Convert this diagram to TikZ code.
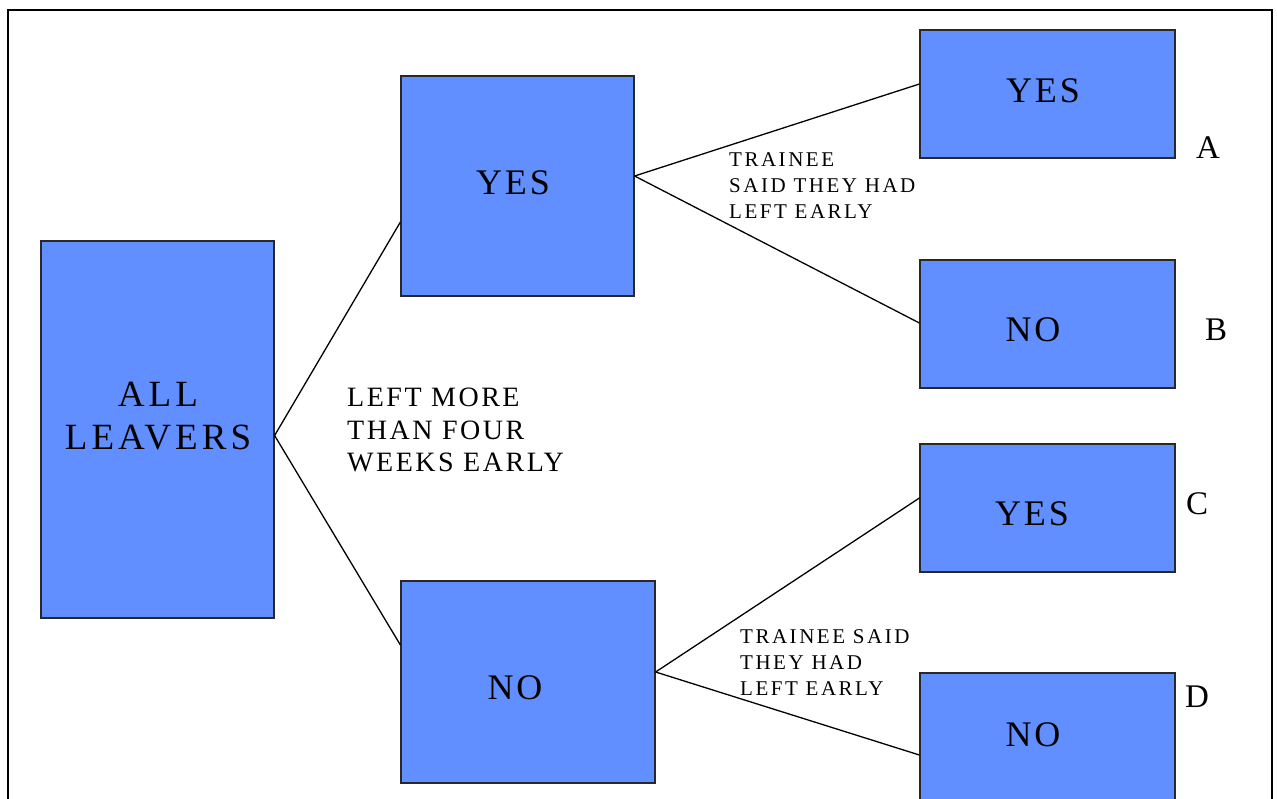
\documentclass[tikz,border=0pt]{standalone}
\usepackage{fontspec}
\setmainfont{Liberation Serif}[LetterSpace=8]
\newfontfamily\plainfont{Liberation Serif}
\newfontfamily\allfont{Liberation Serif}[LetterSpace=11]
\newfontfamily\smallfont{Liberation Serif}[LetterSpace=12]
\newfontfamily\midfont{Liberation Serif}[LetterSpace=9]
\definecolor{boxblue}{RGB}{97,143,255}
\definecolor{edgegray}{RGB}{40,40,40}
\tikzset{
  box/.style={draw=edgegray, line width=1.2pt, fill=boxblue, inner sep=0pt},
  boxtext/.style={inner sep=0pt, align=center, font=\fontsize{36}{43}\selectfont},
  bigtext/.style={inner sep=0pt, align=left, anchor=west, font=\midfont\fontsize{28}{32.5}\selectfont},
  smalltext/.style={inner sep=0pt, align=left, anchor=west, font=\smallfont\fontsize{21}{26}\selectfont},
  letter/.style={inner sep=0pt, font=\plainfont\fontsize{33}{36}\selectfont},
  link/.style={line width=1.3pt, draw=black}
}
\begin{document}
\begin{tikzpicture}[x=1pt,y=-1pt]
\clip (0,0) rectangle (1277,798);
\fill[white] (0,0) rectangle (1277,798);
\draw[line width=2.6pt] (8,10) -- (1272,10) -- (1272,830) -- (8,830) -- cycle;

% boxes
\node[box, minimum width=233pt, minimum height=377pt] (allL) at (157.5,429.5) {};
\node[box, minimum width=233pt, minimum height=220pt] (yesM) at (517.5,186) {};
\node[box, minimum width=254pt, minimum height=202pt] (noM) at (528,682) {};
\node[box, minimum width=255pt, minimum height=128pt] (yesA) at (1047.5,94) {};
\node[box, minimum width=255pt, minimum height=128pt] (noB) at (1047.5,324) {};
\node[box, minimum width=255pt, minimum height=128pt] (yesC) at (1047.5,508) {};
\node[box, minimum width=255pt, minimum height=128pt] (noD) at (1047.5,737) {};

% box texts
\node[boxtext, font=\allfont\fontsize{37}{43}\selectfont] (tAll) at (158,416) {ALL\\LEAVERS};
\node[boxtext] (tYesM) at (513,183) {YES};
\node[boxtext] (tNoM) at (515,688) {NO};
\node[boxtext] (tYesA) at (1043,91) {YES};
\node[boxtext] (tNoB) at (1033,330) {NO};
\node[boxtext] (tYesC) at (1032,514) {YES};
\node[boxtext] (tNoD) at (1033,735) {NO};

% connectors
\draw[link] ([yshift=-6pt]allL.east) -- ([yshift=-36pt]yesM.west);
\draw[link] ([yshift=-6pt]allL.east) -- ([yshift=37pt]noM.west);
\draw[link] ([yshift=10pt]yesM.east) -- ([yshift=10pt]yesA.west);
\draw[link] ([yshift=10pt]yesM.east) -- ([yshift=1pt]noB.west);
\draw[link] ([yshift=10pt]noM.east) -- ([yshift=10pt]yesC.west);
\draw[link] ([yshift=10pt]noM.east) -- ([yshift=-18pt]noD.west);

% labels
\node[bigtext] (lblLeft) at (347,430) {LEFT MORE\\THAN FOUR\\WEEKS EARLY};
\node[smalltext] (lblTop) at (729,186) {TRAINEE\\SAID THEY HAD\\LEFT EARLY};
\node[smalltext] (lblBot) at (740,663) {TRAINEE SAID\\THEY HAD\\LEFT EARLY};

\node[letter] (lA) at (1208,148) {A};
\node[letter] (lB) at (1216,330) {B};
\node[letter] (lC) at (1197,504) {C};
\node[letter] (lD) at (1197,697) {D};
\end{tikzpicture}
\end{document}
